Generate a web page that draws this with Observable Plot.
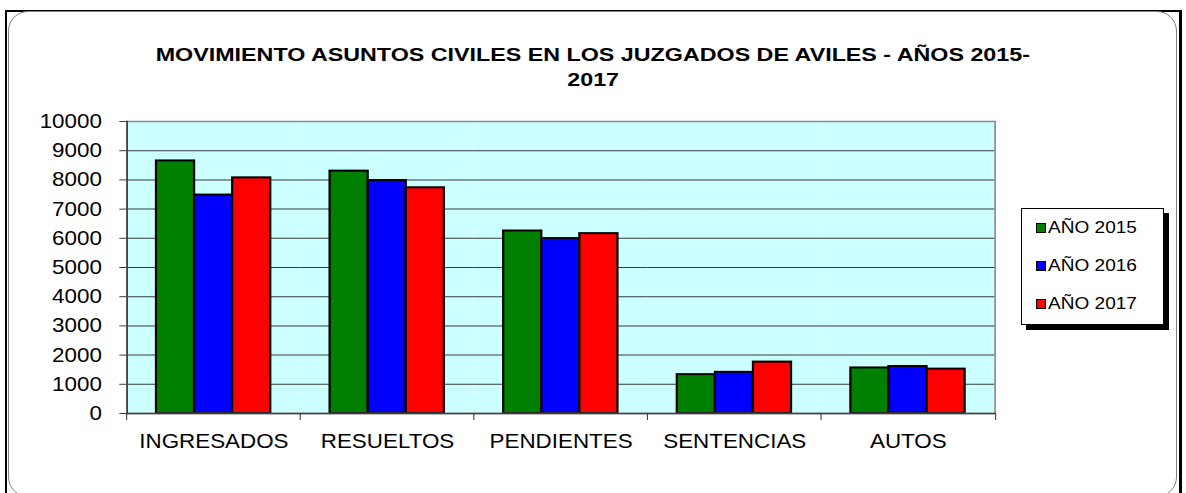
<!DOCTYPE html>
<html>
<head>
<meta charset="utf-8">
<script src="https://cdn.jsdelivr.net/npm/d3@7"></script>
<script src="https://cdn.jsdelivr.net/npm/@observablehq/plot@0.6"></script>
<style>
  body { margin: 0; background: #fff; font-family: Arial, "Liberation Sans", sans-serif; }
  #wrap { position: relative; width: 1186px; height: 493px; overflow: hidden; background: #fff; }
  .outer { position: absolute; left: 5px; top: 10px; width: 1172px; height: 520px;
           border-left: 2px solid #000; border-top: 2px solid #000; border-right: 3px solid #000; }
  .inner { position: absolute; left: 8px; top: 11px; width: 1167px; height: 484px;
           border: 1.5px solid #808080; border-radius: 20px; }
  #title { position: absolute; left: 0; top: 42px; width: 1186px; text-align: center;
           font-weight: bold; font-size: 19px; line-height: 25px; color: #000; }
  #title span { display: inline-block; transform: scaleX(1.225); transform-origin: center; white-space: nowrap; }
  #chart { position: absolute; left: 0; top: 100px; }
  #legend { position: absolute; left: 1021px; top: 208px; width: 141px; height: 115px;
            border: 1px solid #000; box-shadow: 5px 5px 0 #000; background: #fff; }
  .item { position: absolute; left: 14px; height: 20px; display: flex; align-items: center; }
  .sw { width: 8px; height: 8px; border: 1px solid #000; }
  .lbl { font-size: 17px; color: #000; transform: scaleX(1.12); transform-origin: left center;
         margin-left: 2px; white-space: nowrap; }
</style>
</head>
<body>
<div id="wrap">
  <div class="outer"></div>
  <div class="inner"></div>
  <div id="title"></div>
  <div id="chart"></div>
  <div id="legend"></div>
</div>
<script>
const titleLines = ["MOVIMIENTO ASUNTOS CIVILES EN LOS JUZGADOS DE AVILES - AÑOS 2015-", "2017"];
const categories = ["INGRESADOS", "RESUELTOS", "PENDIENTES", "SENTENCIAS", "AUTOS"];
const years = ["AÑO 2015", "AÑO 2016", "AÑO 2017"];
const colors = ["#008000", "#0000ff", "#ff0000"];
const values2015 = [8650, 8300, 6250, 1330, 1560];
const values2016 = [7480, 7980, 5990, 1410, 1610];
const values2017 = [8070, 7730, 6160, 1760, 1520];
const yTicks = [0, 1000, 2000, 3000, 4000, 5000, 6000, 7000, 8000, 9000, 10000];

const series = [values2015, values2016, values2017];
const data = categories.flatMap((c, i) => years.map((y, j) => ({category: c, year: y, value: series[j][i]})));

// title
const titleDiv = document.getElementById("title");
titleLines.forEach((t, i) => {
  if (i) titleDiv.appendChild(document.createElement("br"));
  const s = document.createElement("span"); s.textContent = t; titleDiv.appendChild(s);
});

// legend
const legend = document.getElementById("legend");
const itemTops = [9, 47, 85];
years.forEach((y, j) => {
  const it = document.createElement("div"); it.className = "item"; it.style.top = itemTops[j] + "px";
  const sw = document.createElement("div"); sw.className = "sw"; sw.style.background = colors[j];
  const lb = document.createElement("span"); lb.className = "lbl"; lb.textContent = y;
  it.appendChild(sw); it.appendChild(lb); legend.appendChild(it);
});

// chart (drawn in an unstretched space, then stretched horizontally like the reference)
const S = 1.12;
const W = 1186 / S;
const leftPx = 124, rightPx = 997, topPx = 121, bottomPx = 413, svgTop = 100;
const H = 358;
const mL = leftPx / S, mR = (1186 - rightPx) / S;
const plotW = (rightPx - leftPx) / S;
const step = plotW / categories.length;

const chart = Plot.plot({
  width: W,
  height: H,
  marginLeft: mL,
  marginRight: mR,
  marginTop: topPx - svgTop,
  marginBottom: H - (bottomPx - svgTop),
  style: {fontFamily: "Arial, 'Liberation Sans', sans-serif", fontSize: "20px", color: "#000", background: "transparent", overflow: "visible"},
  fx: {domain: categories, padding: 0, label: null, axis: null},
  x: {domain: years, paddingInner: 0, paddingOuter: 0.74, axis: null},
  y: {domain: [0, 10000], axis: null},
  color: {domain: years, range: colors},
  marks: [
    Plot.frame({fill: "#ccffff"}),
    Plot.ruleY(yTicks.slice(1, -1), {stroke: "#383838", strokeWidth: 1}),
    Plot.barY(data, {fx: "category", x: "year", y: "value", fill: "year", stroke: "#000", strokeWidth: 2}),
    Plot.frame({facet: "super", stroke: "#8c8c8c", strokeWidth: 1.5}),
    Plot.frame({facet: "super", anchor: "left", stroke: "#404040", strokeWidth: 1.5}),
    Plot.frame({facet: "super", anchor: "bottom", stroke: "#404040", strokeWidth: 1.5}),
    Plot.axisY({ticks: yTicks, tickSize: 6.5, tickPadding: 16, tickFormat: d => String(d), fontSize: 20, stroke: "#404040", label: null}),
    Plot.axisFx({anchor: "bottom", tickSize: 0, tickPadding: 20, fontSize: 20, label: null}),
    Plot.axisFx({anchor: "bottom", tickSize: 7, tickFormat: () => "", dx: -step / 2, stroke: "#404040", label: null}),
    Plot.axisFx({anchor: "bottom", ticks: categories.slice(-1), tickSize: 7, tickFormat: () => "", dx: step / 2, stroke: "#404040", label: null})
  ]
});
chart.setAttribute("viewBox", `0 0 ${W} ${H}`);
chart.setAttribute("width", 1186);
chart.setAttribute("height", H);
chart.setAttribute("preserveAspectRatio", "none");
chart.style.maxWidth = "none";
chart.style.width = "1186px";
chart.style.height = H + "px";
document.getElementById("chart").appendChild(chart);
</script>
</body>
</html>
